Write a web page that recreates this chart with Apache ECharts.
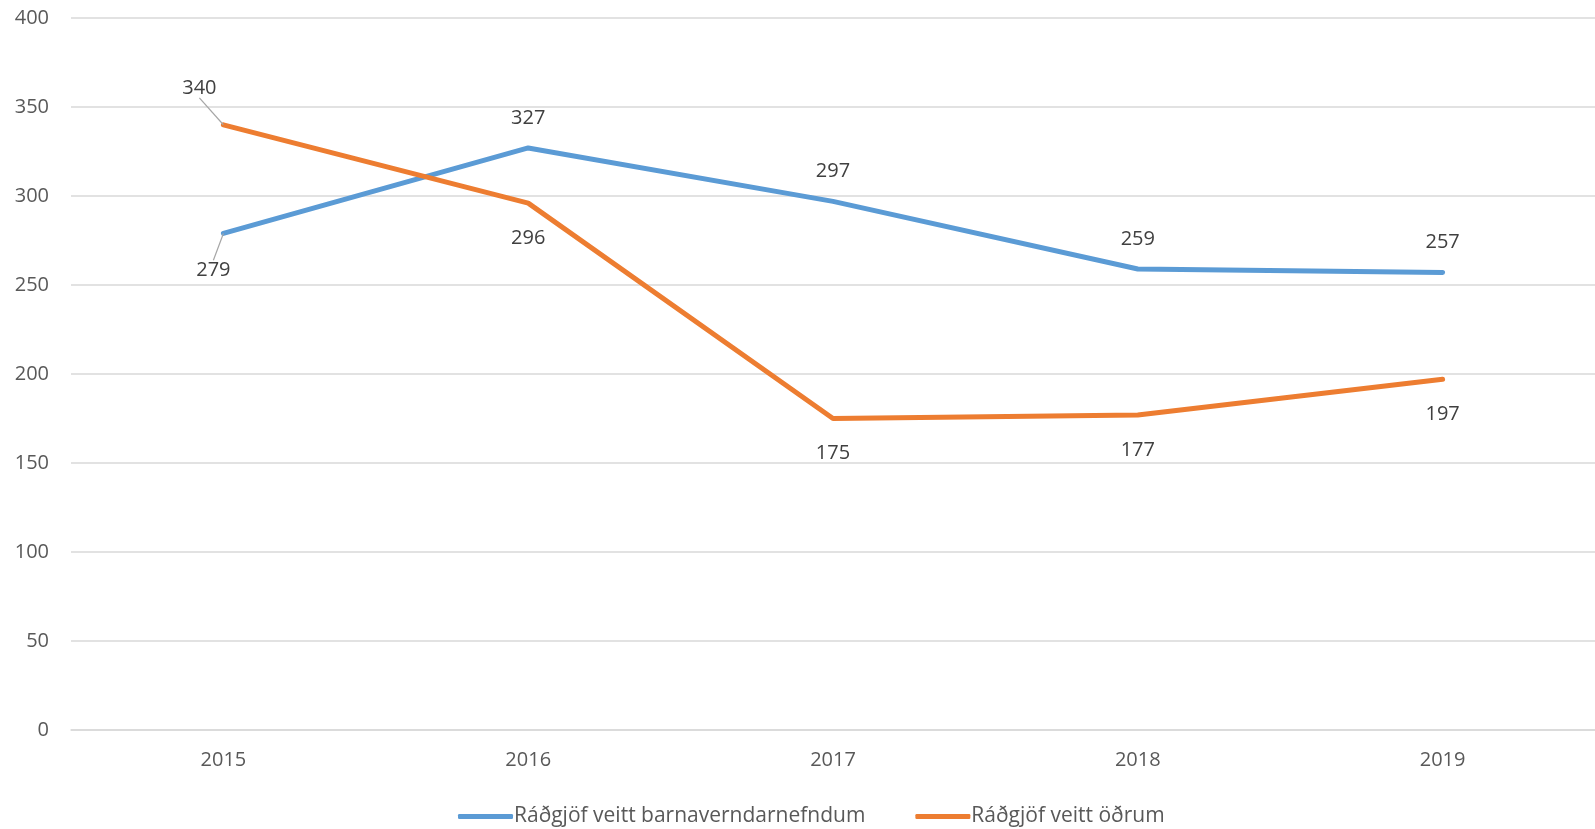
<!DOCTYPE html>
<html>
<head>
    <meta charset="utf-8" />
    <title>Ráðgjöf</title>
    <style>
        html, body { margin: 0; padding: 0; background: #fff; }
        #chart { width: 1595px; height: 829px; }
    </style>
</head>
<body>
    <div id="chart"></div>
    <script src="https://cdn.jsdelivr.net/npm/echarts@6/dist/echarts.min.js"></script>
    <script>
        // gögn
        var years = ['2015', '2016', '2017', '2018', '2019'];
        var barnavernd = [279, 327, 297, 259, 257];
        var odrum = [340, 296, 175, 177, 197];
        var yTicks = { min: 0, max: 400, interval: 50 };

        var font = '"Open Sans", "Noto Sans", sans-serif';

        // fyrsta gildið fær leiðarlínu að færða merkinu
        function withGuide(values) {
            return values.map(function (v, i) {
                return i === 0 ? { value: v, labelLine: { show: true } } : v;
            });
        }

        var chart = echarts.init(document.getElementById('chart'));
        chart.setOption({
            animation: false,
            textStyle: { fontFamily: font },
            grid: { left: 71, right: 0, top: 18, bottom: 99 },
            legend: {
                top: 801,
                left: 453,
                itemWidth: 55,
                itemHeight: 5,
                itemGap: 50,
                icon: 'roundRect',
                textStyle: { fontSize: 21, color: '#595959', fontFamily: font, padding: [0, 0, 0, -4] },
                data: ['Ráðgjöf veitt barnaverndarnefndum', 'Ráðgjöf veitt öðrum']
            },
            xAxis: {
                type: 'category',
                data: years,
                boundaryGap: true,
                axisLine: { lineStyle: { color: '#d9d9d9', width: 1.5 } },
                axisTick: { show: false },
                axisLabel: { color: '#595959', fontSize: 20, margin: 20 }
            },
            yAxis: {
                type: 'value',
                min: yTicks.min,
                max: yTicks.max,
                interval: yTicks.interval,
                axisLine: { show: false },
                axisTick: { show: false },
                splitLine: { lineStyle: { color: '#d9d9d9', width: 1.5 } },
                axisLabel: { color: '#595959', fontSize: 20, margin: 22 }
            },
            series: [
                {
                    name: 'Ráðgjöf veitt barnaverndarnefndum',
                    type: 'line',
                    data: withGuide(barnavernd),
                    symbol: 'circle',
                    symbolSize: 0.1,
                    lineStyle: { color: '#5b9bd5', width: 5, cap: 'round', join: 'round' },
                    itemStyle: { color: '#5b9bd5' },
                    label: { show: true, position: 'top', distance: 20, fontSize: 20, color: '#404040' },
                    labelLine: { show: false, lineStyle: { color: '#a6a6a6', width: 1.2 } },
                    labelLayout: function (p) {
                        if (p.dataIndex === 0) {
                            return { dx: -10, dy: 67 };
                        }
                    }
                },
                {
                    name: 'Ráðgjöf veitt öðrum',
                    type: 'line',
                    data: withGuide(odrum),
                    symbol: 'circle',
                    symbolSize: 0.1,
                    lineStyle: { color: '#ed7d31', width: 5, cap: 'round', join: 'round' },
                    itemStyle: { color: '#ed7d31' },
                    label: { show: true, position: 'bottom', distance: 25, fontSize: 20, color: '#404040' },
                    labelLine: { show: false, lineStyle: { color: '#a6a6a6', width: 1.2 } },
                    labelLayout: function (p) {
                        if (p.dataIndex === 0) {
                            return { dx: -24, dy: -72 };
                        }
                    }
                }
            ]
        });
    </script>
</body>
</html>
